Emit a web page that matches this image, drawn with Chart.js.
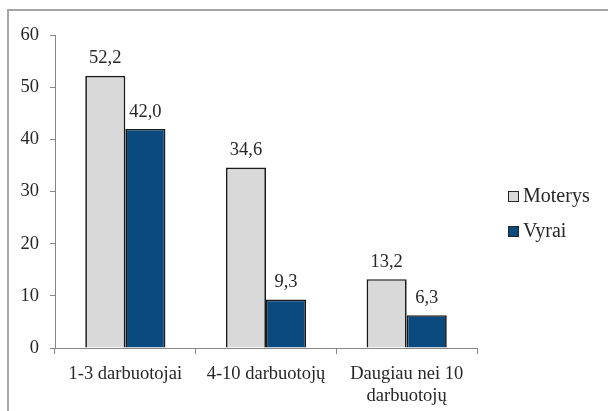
<!DOCTYPE html>
<html>
<head>
<meta charset="utf-8">
<script src="https://cdn.jsdelivr.net/npm/chart.js@4"></script>
<style>
  body { margin: 0; background: #fff; }
  #wrap { position: relative; width: 608px; height: 411px; }
  #frame { position: absolute; left: 7px; top: 9px; width: 610px; height: 420px;
           border-left: 2px solid #a6a6a6; border-top: 2px solid #a6a6a6; pointer-events: none; }
  canvas { position: absolute; left: 0; top: 0; }
</style>
</head>
<body>
<div id="wrap">
  <canvas id="chart" width="608" height="411"></canvas>
  <div id="frame"></div>
</div>
<script>
const categories = ['1-3 darbuotojai', '4-10 darbuotojų', ['Daugiau nei 10', 'darbuotojų']];
const moterys = [52.2, 34.6, 13.2];
const vyrai = [42.0, 9.3, 6.3];

const serif = '"Liberation Serif", "DejaVu Serif", serif';
const textColor = '#262626';
const axisColor = '#868686';
const fontSize = 18.5;

// value labels above each bar
const valueLabels = {
  id: 'valueLabels',
  afterDatasetsDraw(chart) {
    const c = chart.ctx;
    c.save();
    c.font = fontSize + 'px ' + serif;
    c.fillStyle = textColor;
    c.textAlign = 'center';
    c.textBaseline = 'bottom';
    chart.data.datasets.forEach((ds, i) => {
      chart.getDatasetMeta(i).data.forEach((bar, j) => {
        c.fillText(ds.data[j].toFixed(1).replace('.', ','), bar.x, bar.y - 8);
      });
    });
    c.restore();
  }
};

// Excel-like legend on the right
const sideLegend = {
  id: 'sideLegend',
  afterDraw(chart) {
    const c = chart.ctx;
    c.save();
    c.font = '20px ' + serif;
    c.textBaseline = 'middle';
    chart.data.datasets.forEach((ds, i) => {
      const y = 191 + i * 35;
      c.fillStyle = ds.backgroundColor;
      c.fillRect(508, y, 11, 11);
      c.strokeStyle = '#262626';
      c.lineWidth = 1;
      c.strokeRect(508.5, y + 0.5, 10, 10);
      c.fillStyle = textColor;
      c.fillText(ds.label, 523, y + 6);
    });
    c.restore();
  }
};

new Chart(document.getElementById('chart'), {
  type: 'bar',
  data: {
    labels: categories,
    datasets: [
      {
        label: 'Moterys',
        data: moterys,
        backgroundColor: '#d9d9d9',
        borderColor: '#1a1a1a',
        borderWidth: 1.7,
        categoryPercentage: 0.57,
        barPercentage: 1
      },
      {
        label: 'Vyrai',
        data: vyrai,
        backgroundColor: '#0a4a7e',
        borderColor: '#1a1a1a',
        borderWidth: 1.7,
        categoryPercentage: 0.57,
        barPercentage: 1
      }
    ]
  },
  options: {
    responsive: false,
    animation: false,
    layout: { padding: { left: 0, top: 35, right: 131, bottom: 0 } },
    plugins: {
      legend: { display: false },
      tooltip: { enabled: false }
    },
    scales: {
      x: {
        afterFit: s => { s.height = 63; },
        grid: { drawOnChartArea: false, drawTicks: true, tickLength: 6, color: axisColor, offset: true },
        border: { color: axisColor },
        ticks: { color: textColor, font: { family: serif, size: fontSize, lineHeight: 1.2 }, padding: 9, maxRotation: 0 }
      },
      y: {
        min: 0,
        max: 60,
        afterFit: s => { s.width = 55; },
        grid: { drawOnChartArea: false, drawTicks: true, tickLength: 5, color: axisColor },
        border: { color: axisColor },
        ticks: { stepSize: 10, color: textColor, font: { family: serif, size: fontSize }, padding: 11 }
      }
    }
  },
  plugins: [valueLabels, sideLegend]
});
</script>
</body>
</html>
